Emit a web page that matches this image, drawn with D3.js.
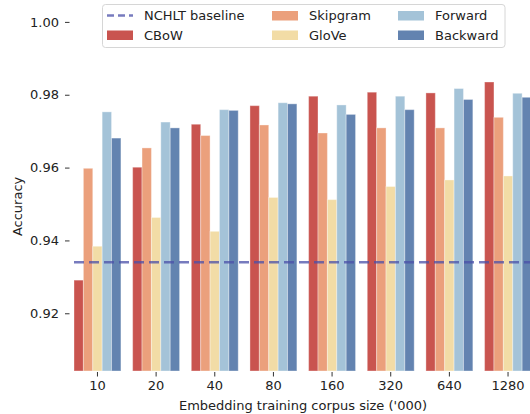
<!DOCTYPE html>
<html><head><meta charset="utf-8">
<script src="https://cdn.jsdelivr.net/npm/d3@7"></script>
<style>
body{margin:0;background:#fff;}
text{font-family:"DejaVu Sans",sans-serif;fill:#222;}
</style></head>
<body><svg id="c" width="530" height="414"></svg>
<script>
const categories = ["10","20","40","80","160","320","640","1280"];
const seriesNames = ["CBoW","Skipgram","GloVe","Forward","Backward"];
const seriesColors = ["#c9544f","#eba07c","#f2dca6","#a4c3d8","#6383b0"];
const cbow     = [0.9291,0.9601,0.9719,0.9770,0.9796,0.9807,0.9805,0.9835];
const skipgram = [0.9598,0.9654,0.9688,0.9717,0.9695,0.9709,0.9709,0.9738];
const glove    = [0.9384,0.9463,0.9425,0.9518,0.9512,0.9548,0.9566,0.9577];
const forward  = [0.9753,0.9725,0.9759,0.9778,0.9772,0.9796,0.9817,0.9804];
const backward = [0.9681,0.9709,0.9757,0.9775,0.9746,0.9759,0.9787,0.9793];
const baseline = 0.934;
const yTicks = [0.92,0.94,0.96,0.98,1.00];
const seriesValues = [cbow, skipgram, glove, forward, backward];

const svg = d3.select("#c");
const plotLeft = 74, plotRight = 531.5, yBottom = 371, yTop = 0;
const n = categories.length;
const step = (plotRight - plotLeft) / (n - 0.2);
const x = d3.scaleBand().domain(categories)
  .range([plotLeft - 0.1*step, plotLeft - 0.1*step + n*step]).paddingInner(0.2).paddingOuter(0.1);
const x0 = d3.scaleBand().domain(categories).range([plotLeft - 0.1*step, plotLeft - 0.1*step + n*step]);
const bandW = x0.bandwidth()*0.8;
const xs = d3.scaleBand().domain(seriesNames).range([0, bandW]);
const y = d3.scaleLinear().domain([0.90415, 1.0]).range([yBottom, 21.9]);

const clip = svg.append("clipPath").attr("id","pc").append("rect")
  .attr("x",plotLeft).attr("y",0).attr("width",plotRight-plotLeft).attr("height",yBottom);

const g = svg.append("g").attr("clip-path","url(#pc)");
seriesNames.forEach((s,si)=>{
  g.selectAll(null).data(seriesValues[si]).enter().append("rect")
    .attr("x",(d,i)=>x0(categories[i]) + x0.bandwidth()*0.1 + xs(s))
    .attr("width",xs.bandwidth())
    .attr("y",d=>y(d))
    .attr("height",d=>yBottom - y(d))
    .attr("fill",seriesColors[si])
    .attr("stroke","#fff").attr("stroke-opacity",0.35).attr("stroke-width",1);
});

// baseline
g.append("line").attr("x1",plotLeft).attr("x2",plotRight)
  .attr("y1",y(baseline)).attr("y2",y(baseline))
  .attr("stroke","#4a4fa8").attr("stroke-opacity",0.75)
  .attr("stroke-width",2.5).attr("stroke-dasharray","10,5");

// y axis
const yAxis = d3.axisLeft(y).tickValues(yTicks).tickFormat(d3.format(".2f")).tickSize(4.5).tickPadding(6);
const ya = svg.append("g").attr("transform","translate(69.5,0)").call(yAxis);
ya.select(".domain").remove();
ya.selectAll("line").attr("stroke","#333");
ya.selectAll("text").attr("font-size",13).attr("fill","#222").style("font-family","DejaVu Sans");

// x axis
const xAxis = d3.axisBottom(x0).tickSize(4.5).tickPadding(4);
const xa = svg.append("g").attr("transform",`translate(0,${yBottom+1})`).call(xAxis);
xa.select(".domain").remove();
xa.selectAll("line").attr("stroke","#333");
xa.selectAll("text").attr("font-size",13).attr("fill","#222").style("font-family","DejaVu Sans");

svg.append("text").attr("x",303).attr("y",410).attr("text-anchor","middle")
  .attr("font-size",13).text("Embedding training corpus size ('000)");
svg.append("text").attr("transform","translate(22,"+((yBottom+21.9)/2+10)+") rotate(-90)")
  .attr("text-anchor","middle").attr("font-size",13).text("Accuracy");

// legend
const lg = svg.append("g");
lg.append("rect").attr("x",102.5).attr("y",4.5).attr("width",402.5).attr("height",43)
  .attr("rx",3).attr("fill","#fff").attr("fill-opacity",0.85).attr("stroke","#d6d6d6").attr("stroke-width",1);
const legendItems = [
  {name:"NCHLT baseline", type:"line", col:0,row:0},
  {name:"CBoW", type:"rect", color:seriesColors[0], col:0,row:1},
  {name:"Skipgram", type:"rect", color:seriesColors[1], col:1,row:0},
  {name:"GloVe", type:"rect", color:seriesColors[2], col:1,row:1},
  {name:"Forward", type:"rect", color:seriesColors[3], col:2,row:0},
  {name:"Backward", type:"rect", color:seriesColors[4], col:2,row:1}
];
const colX = [107, 272, 398];
const rowY = [15.5, 35];
legendItems.forEach(it=>{
  const hx = colX[it.col], hy = rowY[it.row];
  if(it.type==="line"){
    lg.append("line").attr("x1",hx).attr("x2",hx+26).attr("y1",hy).attr("y2",hy)
      .attr("stroke","#4a4fa8").attr("stroke-opacity",0.75).attr("stroke-width",2.5).attr("stroke-dasharray","7,4");
  } else {
    lg.append("rect").attr("x",hx).attr("y",hy-4.5).attr("width",26).attr("height",9.5).attr("fill",it.color);
  }
  lg.append("text").attr("x",hx+37).attr("y",hy+4.5).attr("font-size",13).text(it.name);
});
</script></body></html>
